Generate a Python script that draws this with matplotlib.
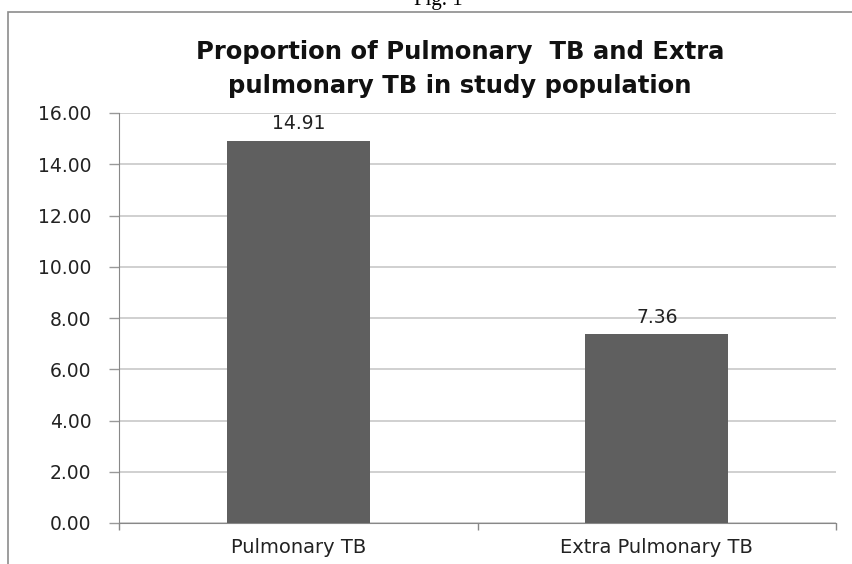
import matplotlib
matplotlib.use("Agg")
import matplotlib.pyplot as plt
from matplotlib.patches import Rectangle
import numpy as np

categories = ["Pulmonary TB", "Extra Pulmonary TB"]
values = [14.91, 7.36]
yticks = [0, 2, 4, 6, 8, 10, 12, 14, 16]
title = "Proportion of Pulmonary  TB and Extra\npulmonary TB in study population"

fig = plt.figure(figsize=(8.52, 5.64), dpi=100)
ax = fig.add_axes([119/852, 1-523/564, (836-119)/852, (523-113)/564])

x = np.arange(len(categories))
ax.bar(x, values, width=0.4, color="#5f5f5f", zorder=3)
ax.set_xlim(-0.5, len(categories) - 0.5)
ax.set_ylim(0, 16)
ax.set_yticks(yticks)
ax.set_yticklabels([f"{v:.2f}" for v in yticks], fontsize=13.5, family="DejaVu Sans", color="#222222")
ax.set_xticks(x)
ax.set_xticklabels(categories, fontsize=14, family="DejaVu Sans", color="#222222")
ax.set_xticks([-0.5, 0.5, 1.5], minor=True)
ax.tick_params(axis="x", which="major", length=0, pad=11)
ax.tick_params(axis="x", which="minor", length=5, color="#888888", width=1)
ax.tick_params(axis="y", length=7, color="#999999", width=1, pad=13)
ax.grid(axis="y", color="#c8c8c8", linewidth=1.2, zorder=0)
for s in ["top", "right"]:
    ax.spines[s].set_visible(False)
ax.spines["left"].set_color("#888888")
ax.spines["bottom"].set_color("#888888")

for xi, v in zip(x, values):
    ax.text(xi, v + 0.3, f"{v:.2f}", ha="center", va="bottom", fontsize=13.5,
            family="DejaVu Sans", color="#222222")

fig.text(460/852, 1 - 69/564, title, ha="center", va="center", fontsize=17.5,
         fontweight="bold", family="DejaVu Sans", linespacing=1.5, color="#111111")

# chart area border
fig.patches.append(Rectangle((8/852, -0.1), 1.0, 1 - 12/564 + 0.1, transform=fig.transFigure,
                             fill=False, edgecolor="#8c8c8c", linewidth=1.2))
fig.text(0.515, 1 - 1/564, "Fig. 1", ha="center", va="center", fontsize=15, family="Liberation Serif")

fig.savefig("out.png", dpi=100)
